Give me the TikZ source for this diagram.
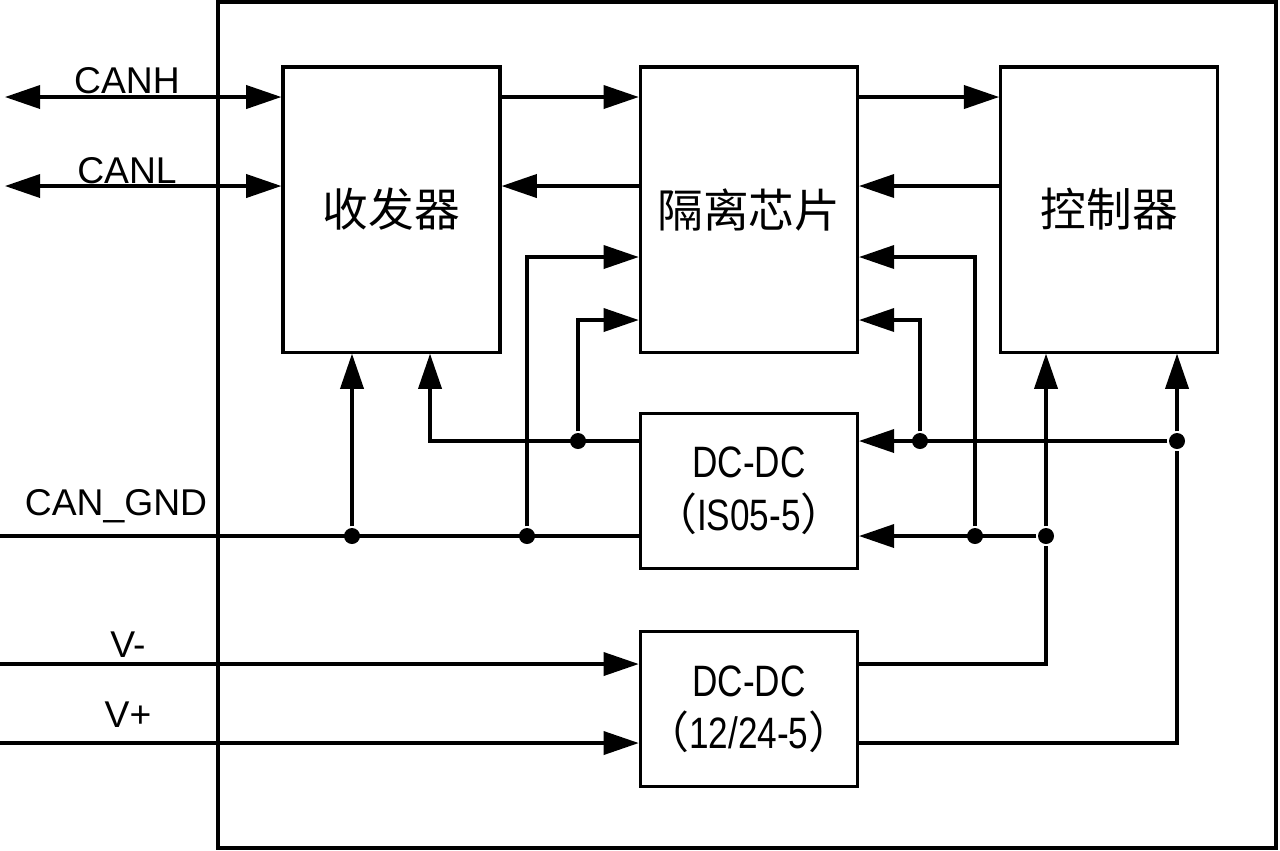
\documentclass[tikz,border=0pt]{standalone}
\usepackage{fontspec}
\setmainfont{Liberation Sans}
\newfontfamily\cjk{Noto Sans CJK SC}
\newfontfamily\dcfont[FakeStretch=0.8]{Liberation Sans}
\usetikzlibrary{arrows.meta,positioning}
\tikzset{every node/.style={align=center}, >={Triangle[length=10pt,width=6.6pt]}, font=\fontsize{10.6}{12}\selectfont}
\tikzset{block/.style={draw, inner sep=0pt, minimum width=2.17cm, minimum height=2.85cm, font=\cjk\fontsize{13}{15}\selectfont},
  conv/.style={block, minimum height=1.55cm, font=\dcfont\fontsize{12.5}{15}\selectfont},
  dot/.style={circle, fill, inner sep=0pt, minimum size=0.16cm},
  tag/.style={anchor=base, inner sep=0pt}}

\begin{document}
\begin{tikzpicture}[x=0.01cm, y=-0.01cm, line width=0.9pt]
            \useasboundingbox (0,0) rectangle (1280,850);
            \draw (218,2) rectangle (1276,848);

            \node [block] (trx) at (391.5,209.5) {收发器};
            \node [block] (iso) [right=1.37cm of trx] {隔离芯片};
            \node [block] (ctrl) [right=1.40cm of iso] {控制器};
            \node [conv] (dcA) [below=0.58cm of iso] {DC-DC\\{\cjk （}IS05-5{\cjk ）}};
            \node [conv] (dcB) [below=0.60cm of dcA] {DC-DC\\{\cjk （}12/24-5{\cjk ）}};

            \coordinate (canh) at (5,97);  \coordinate (canl) at (5,186);
            \coordinate (gnd) at (0,536);  \coordinate (vm) at (0,664);  \coordinate (vp) at (0,743);
            \coordinate (yP) at (0,257);   \coordinate (yQ) at (0,320);  \coordinate (yA) at (0,441);

            \node [dot] (g1) at (352,536) {};  \node [dot] (g2) at (527,536) {};
            \node [dot] (a1) at (578,441) {};
            \node [dot] (b1) at (920,441) {};  \node [dot] (b2) at (1177,441) {};
            \node [dot] (c1) at (975,536) {};  \node [dot] (c2) at (1046,536) {};

            \node [tag] (lh) at (127,93) {CANH};
            \node [tag] (ll) at (127,183) {CANL};
            \node [tag] (lg) at (116,515) {CAN\_GND};
            \node [tag] (lm) at (128,657) {V-};
            \node [tag] (lp) at (128,727) {V+};

            \draw [<->] (canh) -- (trx.west |- canh);
            \draw [<->] (canl) -- (trx.west |- canl);
            \draw [->] (trx.east |- canh) -- (iso.west |- canh);
            \draw [->] (iso.west |- canl) -- (trx.east |- canl);
            \draw [->] (iso.east |- canh) -- (ctrl.west |- canh);
            \draw [->] (ctrl.west |- canl) -- (iso.east |- canl);

            % CAN side supply
            \draw (gnd) -- (dcA.west |- gnd);
            \draw [->] (g1) -- (g1 |- trx.south);
            \draw [->] (g2) |- (iso.west |- yP);
            \draw [->] (dcA.west |- yA) -| ([xshift=0.385cm]trx.south);
            \draw [->] (a1) |- (iso.west |- yQ);

            % controller side supply
            \draw [->] (b2) -- (dcA.east |- b2);
            \draw [->] (b1) |- (iso.east |- yQ);
            \draw [->] (c1) |- (iso.east |- yP);
            \draw [->] (c2) -- (dcA.east |- c2);
            \draw (dcB.east |- vm) -| (c2);
            \draw [->] (c2) -- (c2 |- ctrl.south);
            \draw (dcB.east |- vp) -| (b2);
            \draw [->] (b2) -- (b2 |- ctrl.south);

            \draw [->] (vm) -- (dcB.west |- vm);
            \draw [->] (vp) -- (dcB.west |- vp);
\end{tikzpicture}
\end{document}
